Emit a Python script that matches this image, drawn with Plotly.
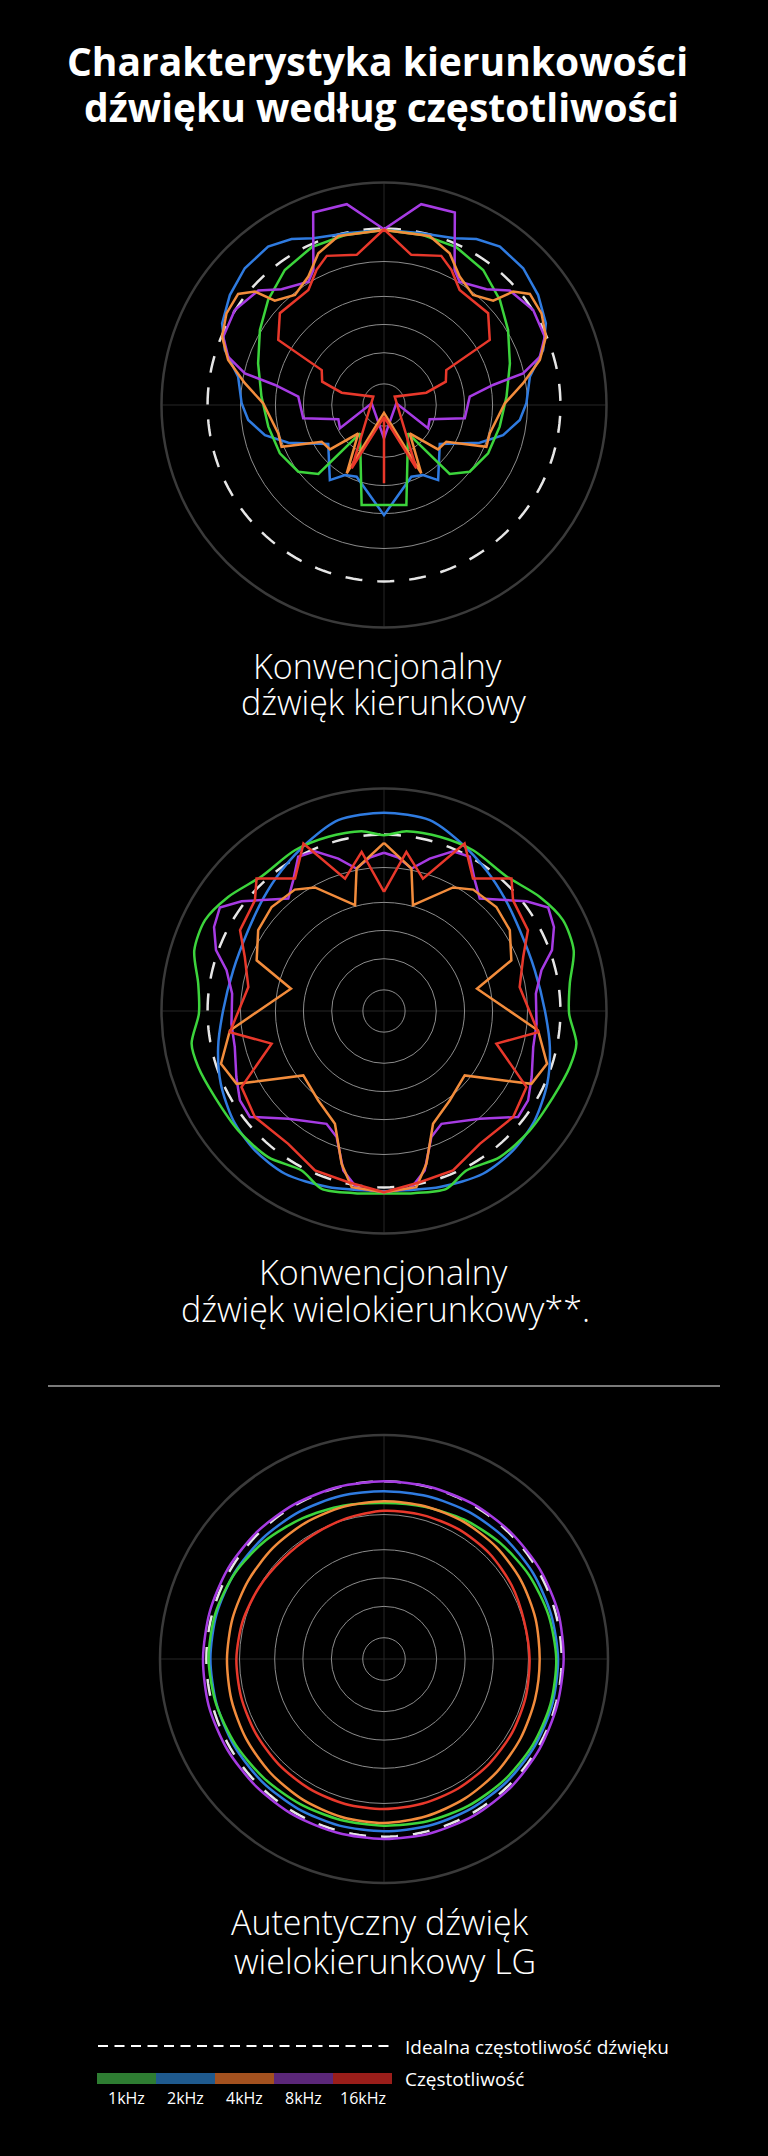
import plotly.graph_objects as go
import numpy as np

W, H = 768, 2156

# ---------------- data (r on a 0-100 scale, theta in degrees clockwise from top) ----------------
series_names = ["1kHz", "2kHz", "4kHz", "8kHz", "16kHz"]
line_colors = ["#3CD43C", "#2F7BE0", "#F28C3C", "#A63BE3", "#E8382B"]
legend_colors = ["#2E7D32", "#1F5A8E", "#A3511F", "#5B2779", "#9A1E1A"]

grid_r = [9.5, 23.5, 36.2, 48.8, 64.5]
ideal_r = 79.3

# Chart 1: conventional directional (right half, mirrored to the left)
c1_green_theta = [0, 12.9, 24.6, 36.3, 47.8, 58.8, 71.7, 86.1, 100.6, 114.9, 127.9, 136.4, 139.7, 167.4, 180]
c1_green_r = [78.7, 78.4, 78, 75.3, 70.3, 65.2, 59.6, 55.2, 52.9, 51.6, 48.8, 42.8, 16.7, 46.1, 45]
c1_blue_theta = [0, 11.7, 23, 29.1, 36.2, 45.5, 54.5, 63.2, 70.9, 79, 89.3, 96.3, 104.2, 111.5, 125, 144.2, 150.9, 159.1, 180]
c1_blue_r = [78.7, 78.9, 81.4, 85.4, 88.2, 87.7, 85.1, 81.5, 75.7, 66.8, 64, 61.4, 55.2, 46.2, 30.6, 41.6, 36, 34.5, 49.5]
c1_orange_theta = [0, 15.1, 23.4, 30.5, 39, 46.3, 48.7, 52.7, 59.8, 67.1, 73.9, 81.1, 89.2, 105, 112.2, 120.5, 129.4, 137.8, 151.4, 180]
c1_orange_r = [78.7, 78.7, 74.3, 67, 63.6, 67.9, 77.2, 82.4, 81.9, 79, 72.9, 63.3, 54.3, 49.2, 49.7, 32.5, 31.4, 17.2, 35, 3.5]
c1_purple_theta = [0, 10.5, 20.2, 27.6, 31.5, 41.5, 47.7, 57.5, 67, 72.8, 77.2, 79.6, 84.4, 99.4, 107.4, 117.9, 82, 180]
c1_purple_r = [79, 91.8, 92.2, 68.5, 65, 69.5, 76.4, 79.5, 78.5, 73.3, 64.1, 49.8, 38.7, 36.8, 21.5, 22.4, 5.6, 15]
c1_red_theta = [0, 10.3, 21, 26.5, 33.3, 48.6, 58.4, 60.7, 69.3, 73.8, 52, 153, 180, 180]
c1_red_r = [79, 68.6, 71.8, 67.9, 61.9, 62.4, 55.8, 32.1, 29.7, 19.8, 6.1, 32, 5.3, 35.2]

# Chart 2: conventional multi-directional (right half, mirrored)
c2_green_theta = [0, 7.1, 17.7, 29, 42.2, 53.8, 63.1, 72.3, 81.6, 90.8, 99.6, 106.8, 117, 129.3, 141.6, 152.7, 160.7, 170.9, 180]
c2_green_r = [79, 81.4, 82.2, 82.6, 81.8, 86.8, 90.2, 89.5, 84.4, 83.2, 87.7, 87.2, 85.3, 84.7, 83.8, 80.7, 84.7, 82.9, 81.9]
c2_blue_theta = [0, 13.5, 24.1, 36, 47, 59.3, 74.9, 89.8, 102.3, 114, 126, 137.2, 148.7, 162.4, 180]
c2_blue_r = [89.1, 88.2, 83.3, 78.2, 74.2, 71, 70.2, 72.3, 76.3, 80.3, 83.7, 85.4, 85.6, 83, 81]
c2_orange_theta = [0, 10.9, 15.3, 29.2, 36.3, 47.2, 57.3, 68.3, 76.5, 97.2, 107.9, 116.3, 128.6, 143.7, 156.5, 164.5, 169.6, 180]
c2_orange_r = [75.6, 65.2, 49.3, 63.6, 67.7, 68.8, 67.2, 61.6, 43, 69.8, 77, 73.9, 46.4, 49.9, 55.3, 71.3, 80.5, 81.4]
c2_purple_theta = [0, 5.3, 11, 16.7, 23.4, 29.1, 34.8, 40.4, 52.4, 57.8, 63.7, 70.1, 75.5, 83.5, 94.8, 103.6, 114.1, 121.8, 128.3, 138.4, 153, 159.4, 165.7, 171.2, 180]
c2_purple_r = [71.1, 69.3, 65.2, 71.5, 78.2, 79.3, 71.5, 66.4, 80.8, 87.2, 85.2, 80.3, 73.1, 68.7, 68.8, 69, 72.7, 76.2, 76.8, 64.8, 56.9, 60.5, 74, 80.4, 81.4]
c2_red_theta = [0, 8, 16.4, 25.7, 33.9, 43.9, 49.4, 60.7, 68.8, 80, 97.8, 106.2, 118.1, 129.4, 144.2, 156.6, 168.2, 180]
c2_red_r = [53.5, 72.2, 62, 83.5, 71.7, 82.6, 76.4, 74.2, 67.1, 61.9, 69.9, 52.6, 72.6, 75.1, 73.6, 78.1, 78.6, 81.4]

# Chart 3: LG authentic multi-directional (full circle, every 15 degrees)
c3_theta = [0, 15, 30, 45, 60, 75, 90, 105, 120, 135, 150, 165, 180, 195, 210, 225, 240, 255, 270, 285, 300, 315, 330, 345]
c3_green_r = [69.6, 70.3, 71.8, 73.3, 74.8, 76, 76.9, 77, 76.7, 76.2, 75.6, 75, 74.4, 74.4, 74.8, 75.5, 76.5, 77.6, 78.3, 78, 76.8, 74.8, 72.6, 70.8]
c3_blue_r = [74.9, 75.2, 75.8, 76.3, 76.8, 77.2, 77.7, 77.8, 77.7, 77.5, 77.3, 77.1, 76.9, 77, 77.1, 77.2, 77.3, 77.4, 77.5, 77.4, 77, 76.4, 75.8, 75.3]
c3_orange_r = [70.4, 70.6, 70.8, 70.8, 70.5, 70, 69.5, 69.8, 70.5, 71.3, 72, 72.7, 73.2, 73, 72.5, 71.8, 71.1, 70.5, 70.1, 70, 70, 70.1, 70.2, 70.3]
c3_purple_r = [79.3, 79.5, 79.8, 80, 80.3, 80.5, 80.2, 80, 80.2, 80.5, 80.6, 80.5, 80.4, 80.3, 80.5, 80.6, 80.8, 81, 80.8, 80.6, 80.5, 80.2, 79.8, 79.5]
c3_red_r = [66.2, 66.5, 66.8, 66.6, 65.8, 64.8, 65, 65.5, 66, 66.3, 66.6, 66.8, 67, 67, 66.8, 66.5, 66.2, 66, 65.9, 65.3, 64.3, 63.5, 63.8, 65]

title_lines = ["Charakterystyka kierunkowości", "dźwięku według częstotliwości"]
captions = [["Konwencjonalny", "dźwięk kierunkowy"],
            ["Konwencjonalny", "dźwięk wielokierunkowy**."],
            ["Autentyczny dźwięk", "wielokierunkowy LG"]]
legend_ideal = "Idealna częstotliwość dźwięku"
legend_freq = "Częstotliwość"


def mirror(theta, r):
    t = list(theta) + [360 - x for x in reversed(theta)]
    rr = list(r) + list(reversed(r))
    return t, rr


def close(theta, r):
    return list(theta) + [theta[0] + 360], list(r) + [r[0]]


def px(x):
    return x / W


def py(y):
    return 1 - y / H


fig = go.Figure()

charts = [
    ("polar", mirror, [(c1_green_theta, c1_green_r), (c1_blue_theta, c1_blue_r), (c1_orange_theta, c1_orange_r),
                       (c1_purple_theta, c1_purple_r), (c1_red_theta, c1_red_r)], "linear"),
    ("polar2", mirror, [(c2_green_theta, c2_green_r), (c2_blue_theta, c2_blue_r), (c2_orange_theta, c2_orange_r),
                        (c2_purple_theta, c2_purple_r), (c2_red_theta, c2_red_r)], "linear"),
    ("polar3", close, [(c3_theta, c3_green_r), (c3_theta, c3_blue_r), (c3_theta, c3_orange_r),
                       (c3_theta, c3_purple_r), (c3_theta, c3_red_r)], "spline"),
]

draw_order = [1, 0, 3, 2, 4]
ideal_theta = list(np.arange(0, 361, 2))
for sub, fn, data, shape in charts:
    fig.add_trace(go.Scatterpolar(theta=ideal_theta, r=[ideal_r] * len(ideal_theta), mode="lines",
                                  line=dict(color="#E6E6E6", width=2.5, dash="17px,15px"),
                                  subplot=sub, showlegend=False, hoverinfo="skip"))
    for i in draw_order:
        t, r = fn(*data[i])
        sm = shape
        if sub == "polar2" and i in (0, 1):
            sm = "spline"
        fig.add_trace(go.Scatterpolar(theta=t, r=r, mode="lines", name=series_names[i],
                                      line=dict(color=line_colors[i], width=2.5, shape=sm, smoothing=0.8),
                                      subplot=sub, showlegend=False))

polar_common = dict(
    bgcolor="#000000",
    radialaxis=dict(range=[0, 100], tickvals=grid_r, showticklabels=False, ticks="", showline=False,
                    gridcolor="#8C8C8C", gridwidth=1),
    angularaxis=dict(rotation=90, direction="clockwise", tickvals=[0, 90, 180, 270], showticklabels=False,
                     ticks="", gridcolor="#262626", gridwidth=1, linecolor="#3A3A3A", linewidth=2.5,
                     showline=True),
)

centers = [(384, 405, 222.5), (384, 1011, 222.5), (384, 1659, 224)]
for k, (cx, cy, R) in enumerate(centers):
    key = "polar" if k == 0 else f"polar{k + 1}"
    fig.update_layout(**{key: dict(domain=dict(x=[px(cx - R), px(cx + R)], y=[py(cy + R), py(cy - R)]),
                                   **polar_common)})

annotations = []
title_font = dict(family="Open Sans", size=39, color="white", weight="bold")
for txt, cx, cy in zip(title_lines, [377, 381], [61, 106]):
    annotations.append(dict(text=txt, x=px(cx), y=py(cy), xref="paper", yref="paper", showarrow=False,
                            xanchor="center", yanchor="middle", font=title_font))

cap_font = dict(family="Open Sans", size=34, color="white", weight=300)
cap_pos = [[(377, 666), (383, 702)], [(383, 1272), (385, 1309)], [(380, 1922), (385, 1961)]]
for lines, poss in zip(captions, cap_pos):
    for txt, (cx, cy) in zip(lines, poss):
        annotations.append(dict(text=txt, x=px(cx), y=py(cy), xref="paper", yref="paper", showarrow=False,
                                xanchor="center", yanchor="middle", font=cap_font))

leg_font = dict(family="Open Sans", size=19, color="white")
annotations.append(dict(text=legend_ideal, x=px(403), y=py(2047), xref="paper", yref="paper", showarrow=False,
                        xanchor="left", yanchor="middle", font=leg_font))
annotations.append(dict(text=legend_freq, x=px(403), y=py(2079), xref="paper", yref="paper", showarrow=False,
                        xanchor="left", yanchor="middle", font=leg_font))

shapes = []
seg_w = 59
x0 = 97
for i, (name, col) in enumerate(zip(series_names, legend_colors)):
    shapes.append(dict(type="rect", xref="paper", yref="paper", x0=px(x0 + i * seg_w), x1=px(x0 + (i + 1) * seg_w),
                       y0=py(2084), y1=py(2073), fillcolor=col, line=dict(width=0)))
    annotations.append(dict(text=name, x=px(x0 + (i + 0.5) * seg_w), y=py(2098), xref="paper", yref="paper",
                            showarrow=False, xanchor="center", yanchor="middle",
                            font=dict(family="Open Sans", size=16, color="white")))

shapes.append(dict(type="line", xref="paper", yref="paper", x0=px(98), x1=px(393), y0=py(2046), y1=py(2046),
                   line=dict(color="white", width=2, dash="10px,6.5px")))
shapes.append(dict(type="line", xref="paper", yref="paper", x0=px(48), x1=px(720), y0=py(1386), y1=py(1386),
                   line=dict(color="#7A7A7A", width=2)))

fig.update_layout(width=W, height=H, margin=dict(l=0, r=0, t=0, b=0), paper_bgcolor="#000000",
                  plot_bgcolor="#000000", showlegend=False, annotations=annotations, shapes=shapes)

fig.write_html("out.html", config={"displayModeBar": False},
               post_script="document.body.style.margin='0';document.body.style.background='#000000';")
